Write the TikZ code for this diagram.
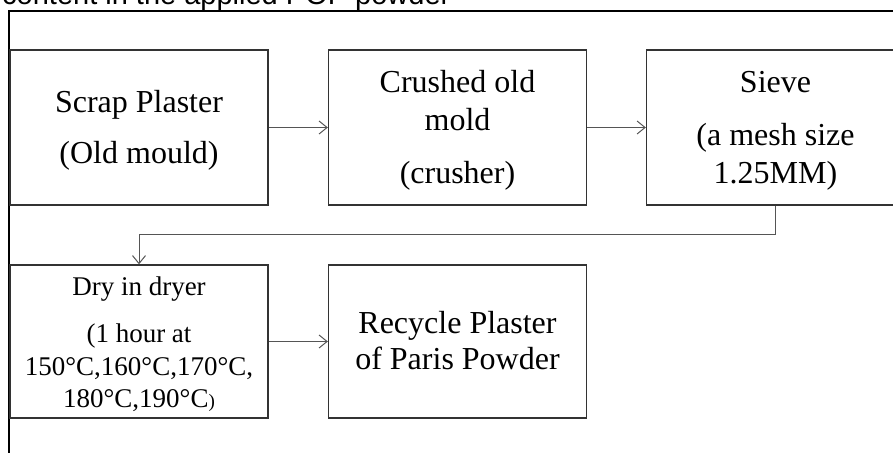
\documentclass[tikz,border=0pt]{standalone}
\usepackage{xcolor}
\usepackage{fontspec}
\setmainfont{Liberation Serif}
\newfontfamily\headfont{Liberation Sans}
\usetikzlibrary{arrows.meta}
\definecolor{boxgray}{HTML}{333333}
\definecolor{arrgray}{HTML}{555555}
\begin{document}
\begin{tikzpicture}[x=1pt,y=-1pt,
 box/.style={draw=boxgray, line width=1.3pt, minimum width=258pt, minimum height=155pt, inner sep=0pt},
 big/.style={anchor=base, inner sep=0pt, font=\fontsize{32}{38}\selectfont},
 small/.style={anchor=base, inner sep=0pt, font=\fontsize{27}{32}\selectfont},
 arr/.style={draw=arrgray, line width=1pt, -{Straight Barb[length=8pt,width=13pt]}},
 framestyle/.style={line width=2.2pt, black}]
\useasboundingbox (0,0) rectangle (893,452);
\clip (0,0) rectangle (893,452);
% heading (cut off at top)
\node[anchor=base west, inner sep=0pt, font=\headfont\fontsize{29}{29}\selectfont] (head) at (2,5) {content in the applied POP powder};
% frame
\draw[framestyle] (9,470) -- (9,11) -- (910,11);
% boxes
\node[box] (b1) at (139,127.5) {};
\node[box] (b2) at (457.5,127.5) {};
\node[box] (b3) at (775.5,127.5) {};
\node[box, minimum height=153pt] (b4) at (139,341.5) {};
\node[box, minimum height=153pt] (b5) at (457.5,341.5) {};
% texts
\node[big] (t1a) at (139,112) {Scrap Plaster};
\node[big] (t1b) at (139,163) {(Old mould)};
\node[big] (t2a) at (457.5,92) {Crushed old};
\node[big] (t2b) at (457.5,130) {mold};
\node[big] (t2c) at (457.5,183) {(crusher)};
\node[big] (t3a) at (775.5,92) {Sieve};
\node[big] (t3b) at (775.5,145) {(a mesh size};
\node[big] (t3c) at (775.5,183) {1.25MM)};
\node[small] (t4a) at (139,295) {Dry in dryer};
\node[small] (t4b) at (139,342) {(1 hour at};
\node[small] (t4c) at (139,375) {150°C,160°C,170°C,};
\node[small] (t4d) at (139,407) {180°C,190°C{\fontsize{19}{19}\selectfont)}};
\node[big] (t5a) at (457.5,333) {Recycle Plaster};
\node[big] (t5b) at (457.5,369) {of Paris Powder};
% connectors
\draw[arr] (b1.east) -- (b2.west);
\draw[arr] (b2.east) -- (b3.west);
\draw[arr] (b3.south) -- ++(0,29) -| (b4.north);
\draw[arr] (b4.east) -- (b5.west);
\end{tikzpicture}
\end{document}
